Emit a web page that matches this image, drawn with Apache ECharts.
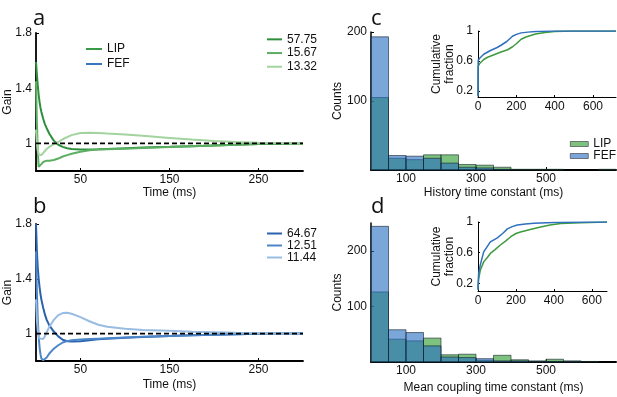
<!DOCTYPE html>
<html><head><meta charset="utf-8">
<script src="https://cdn.jsdelivr.net/npm/echarts@6/dist/echarts.min.js"></script>
<style>html,body{margin:0;padding:0;background:#fff}#c{width:617px;height:397px}</style>
</head><body><div id="c"></div>
<script>
// ---- Panel a / b : gain curves ----
const timeMs = [0,1,2,3,4,5,6,8,10,12,15,20,25,30,35,40,50,60,70,80,100,120,150,175,200,225,250,275,300];
const lip5775 = [1.59,1.50,1.42,1.35,1.30,1.26,1.23,1.18,1.14,1.11,1.07,1.02,0.99,0.975,0.965,0.96,0.955,0.955,0.957,0.96,0.965,0.97,0.975,0.98,0.985,0.99,0.995,0.998,1.0];
const lip1567 = [1.45,1.15,0.95,0.83,0.82,0.835,0.85,0.865,0.872,0.875,0.875,0.88,0.89,0.905,0.915,0.925,0.94,0.95,0.955,0.958,0.962,0.967,0.974,0.98,0.985,0.99,0.995,0.998,1.0];
const lip1332 = [1.10,1.00,0.95,0.92,0.91,0.91,0.915,0.93,0.945,0.96,0.975,0.995,1.01,1.03,1.045,1.06,1.075,1.078,1.076,1.072,1.065,1.055,1.04,1.028,1.018,1.01,1.005,1.002,1.0];
const fef6467 = [1.80,1.60,1.48,1.40,1.34,1.29,1.25,1.19,1.14,1.10,1.06,1.015,0.98,0.955,0.945,0.943,0.945,0.952,0.958,0.962,0.97,0.976,0.983,0.988,0.992,0.995,0.998,1.0,1.0];
const fef1251 = [1.60,1.30,1.10,0.98,0.90,0.85,0.82,0.805,0.81,0.825,0.855,0.89,0.915,0.935,0.945,0.952,0.957,0.96,0.963,0.966,0.972,0.977,0.983,0.988,0.992,0.995,0.998,1.0,1.0];
const fef1144 = [1.25,1.10,1.02,0.98,0.965,0.958,0.955,0.96,0.98,1.01,1.05,1.10,1.135,1.15,1.152,1.145,1.12,1.09,1.065,1.05,1.035,1.027,1.02,1.014,1.01,1.006,1.003,1.001,1.0];
const refT = [0,300];
const refGain = [1,1];
const gainTicks = [1,1.4,1.8];
const timeTicks = [50,150,250];

// ---- Panel c / d : histograms ----
const binEdges = [0,50,100,150,200,250,300,350,400,450,500,550,600,650,700];
const histC_LIP = [105,17,15,22,22,8,7,4,1,1,1,0,0,1];
const histC_FEF = [193,21,20,17,10,4,3,1,0,0,0,0,0,0];
const histD_LIP = [126,41,38,43,13,14,3,12,4,2,5,2,1,0];
const histD_FEF = [244,58,53,29,9,8,6,2,2,1,1,1,0,0];
const countTicksC = [100,200];
const countTicksD = [100,200];
const constTicks = [100,300,500];

// ---- Insets : cumulative fraction ----
const cdfC_FEF_t = [0,1,10,30,65,100,120,150,180,200,225,260,300,350,400,720];
const cdfC_FEF   = [0.13,0.61,0.64,0.69,0.74,0.78,0.81,0.86,0.93,0.955,0.975,0.985,0.993,0.997,1.0,1.0];
const cdfC_LIP_t = [0,1,10,30,50,80,120,155,180,200,225,250,300,350,400,500,720];
const cdfC_LIP   = [0.13,0.53,0.57,0.62,0.65,0.68,0.72,0.75,0.79,0.83,0.89,0.92,0.96,0.98,0.993,1.0,1.0];
const cdfD_FEF_t = [0,3,12,30,65,100,130,155,180,207,250,295,400,500,680];
const cdfD_FEF   = [0.12,0.32,0.44,0.61,0.74,0.79,0.85,0.91,0.94,0.96,0.975,0.985,0.993,0.997,1.0];
const cdfD_LIP_t = [0,3,12,30,50,65,90,118,145,171,200,224,270,330,380,436,542,680];
const cdfD_LIP   = [0.12,0.25,0.37,0.48,0.54,0.59,0.64,0.70,0.75,0.805,0.85,0.87,0.90,0.935,0.96,0.98,0.99,1.0];
const fracTicks = [0.2,0.6,1];
const insetTTicks = [0,200,400,600];

const FONT = '"Liberation Sans", Arial, sans-serif';
const zip = (a,b) => a.map((v,i)=>[v,b[i]]);
const binData = (counts) => counts.map((c,i)=>[binEdges[i],binEdges[i+1],c]);

const GREEN = 'rgba(38,153,42,0.6)';
const BLUE = 'rgba(35,107,192,0.6)';

function histSeries(name, counts, color, gi, z) {
  return {
    type:'custom', name, xAxisIndex:gi, yAxisIndex:gi, z,
    itemStyle:{color},
    data: binData(counts),
    renderItem: (params, api) => {
      const c = api.value(2);
      if (!c) return null;
      const p0 = api.coord([api.value(0), c]);
      const p1 = api.coord([api.value(1), 0]);
      return {type:'rect', shape:{x:p0[0], y:p0[1], width:p1[0]-p0[0], height:p1[1]-p0[1]},
        style:{fill:color, stroke:'rgba(20,30,40,0.85)', lineWidth:0.7}};
    }
  };
}

const axLine = (w) => ({show:true, lineStyle:{color:'#000', width:w}});
const lbl = (vals, m) => ({customValues: vals, margin: m, color:'#111', fontSize:12, fontFamily:FONT});
const tick = (vals, len) => ({show:true, customValues: vals, inside:true, length:len, lineStyle:{color:'#000', width:1}});
const nm = {color:'#111', fontSize:12, fontFamily:FONT};

const grids = [
  {left:36, top:33, width:267, height:138},
  {left:36, top:224, width:267, height:137},
  {left:371, top:32, width:245, height:138},
  {left:371, top:223, width:245, height:139},
  {left:478, top:31, width:138, height:66},
  {left:478, top:222, width:129, height:69}
].map(g => Object.assign({containLabel:false, outerBoundsMode:'none'}, g));

const xAxes = [
  {gridIndex:0, type:'value', min:0, max:300, axisLine:axLine(1.8), axisTick:tick(timeTicks,3), axisLabel:lbl(timeTicks,3), splitLine:{show:false}, name:'Time (ms)', nameLocation:'middle', nameGap:16, nameTextStyle:nm},
  {gridIndex:1, type:'value', min:0, max:300, axisLine:axLine(1.8), axisTick:tick(timeTicks,3), axisLabel:lbl(timeTicks,3), splitLine:{show:false}, name:'Time (ms)', nameLocation:'middle', nameGap:18, nameTextStyle:nm},
  {gridIndex:2, type:'value', min:0, max:700, axisLine:axLine(2), axisTick:tick(constTicks,3), axisLabel:lbl(constTicks,3), splitLine:{show:false}, name:'History time constant (ms)', nameLocation:'middle', nameGap:17, nameTextStyle:nm},
  {gridIndex:3, type:'value', min:0, max:700, axisLine:axLine(2), axisTick:tick(constTicks,3), axisLabel:lbl(constTicks,3), splitLine:{show:false}, name:'Mean coupling time constant (ms)', nameLocation:'middle', nameGap:20, nameTextStyle:nm},
  {gridIndex:4, type:'value', min:0, max:720, axisLine:axLine(1), axisTick:tick(insetTTicks,2), axisLabel:lbl(insetTTicks,4), splitLine:{show:false}},
  {gridIndex:5, type:'value', min:0, max:680, axisLine:axLine(1), axisTick:tick(insetTTicks,2), axisLabel:lbl(insetTTicks,4), splitLine:{show:false}}
];
const yAxes = [
  {gridIndex:0, type:'value', min:0.8, max:1.8, axisLine:axLine(1.8), axisTick:tick(gainTicks,3), axisLabel:lbl(gainTicks,4), splitLine:{show:false}, name:'Gain', nameLocation:'middle', nameGap:22, nameTextStyle:nm},
  {gridIndex:1, type:'value', min:0.8, max:1.8, axisLine:axLine(1.8), axisTick:tick(gainTicks,3), axisLabel:lbl(gainTicks,4), splitLine:{show:false}, name:'Gain', nameLocation:'middle', nameGap:22, nameTextStyle:nm},
  {gridIndex:2, type:'value', min:0, max:200, axisLine:axLine(1.5), axisTick:tick(countTicksC,3), axisLabel:lbl(countTicksC,4), splitLine:{show:false}, name:'Counts', nameLocation:'middle', nameGap:27, nameTextStyle:nm},
  {gridIndex:3, type:'value', min:0, max:250, axisLine:axLine(1.5), axisTick:tick(countTicksD,3), axisLabel:lbl(countTicksD,4), splitLine:{show:false}, name:'Counts', nameLocation:'middle', nameGap:27, nameTextStyle:nm},
  {gridIndex:4, type:'value', min:0.12, max:1, axisLine:axLine(1), axisTick:tick(fracTicks,2), axisLabel:lbl(fracTicks,5), splitLine:{show:false}, name:'Cumulative\nfraction', nameLocation:'middle', nameGap:22, nameTextStyle:Object.assign({lineHeight:13}, nm)},
  {gridIndex:5, type:'value', min:0.1, max:1, axisLine:axLine(1), axisTick:tick(fracTicks,2), axisLabel:lbl(fracTicks,5), splitLine:{show:false}, name:'Cumulative\nfraction', nameLocation:'middle', nameGap:22, nameTextStyle:Object.assign({lineHeight:13}, nm)}
];
xAxes.concat(yAxes).forEach(a => { a.nameMoveOverlap = false; });

const line = (name, data, color, gi, w) => ({type:'line', name, data, xAxisIndex:gi, yAxisIndex:gi, showSymbol:false, symbol:'none', smooth:false, lineStyle:{color, width:w}, itemStyle:{color}, z:3, animation:false});
const dashed = (gi) => ({type:'line', name:'ref'+gi, data:zip(refT,refGain), xAxisIndex:gi, yAxisIndex:gi, symbol:'none', lineStyle:{color:'#000', width:1.6, type:[5,3]}, z:5, silent:true});

const series = [
  line('57.75', zip(timeMs,lip5775), '#2f8f3d', 0, 2),
  line('15.67', zip(timeMs,lip1567), '#5cae62', 0, 2),
  line('13.32', zip(timeMs,lip1332), '#a3d39e', 0, 2),
  {type:'line', name:'LIPa', data:[], xAxisIndex:0, yAxisIndex:0, itemStyle:{color:'#3a9a47'}, lineStyle:{color:'#3a9a47'}},
  {type:'line', name:'FEFa', data:[], xAxisIndex:0, yAxisIndex:0, itemStyle:{color:'#3a76c0'}, lineStyle:{color:'#3a76c0'}},
  dashed(0),
  line('64.67', zip(timeMs,fef6467), '#2a62ad', 1, 2),
  line('12.51', zip(timeMs,fef1251), '#4d86c8', 1, 2),
  line('11.44', zip(timeMs,fef1144), '#98bce2', 1, 2),
  dashed(1),
  histSeries('LIPc', histC_LIP, GREEN, 2, 2),
  histSeries('FEFc', histC_FEF, BLUE, 2, 3),
  histSeries('LIPd', histD_LIP, GREEN, 3, 2),
  histSeries('FEFd', histD_FEF, BLUE, 3, 3),
  line('cLIP', zip(cdfC_LIP_t,cdfC_LIP), '#3d9a3d', 4, 1.5),
  line('cFEF', zip(cdfC_FEF_t,cdfC_FEF), '#2f6fbf', 4, 1.5),
  line('dLIP', zip(cdfD_LIP_t,cdfD_LIP), '#3d9a3d', 5, 1.5),
  line('dFEF', zip(cdfD_FEF_t,cdfD_FEF), '#2f6fbf', 5, 1.5)
];
series.forEach(s => { s.animation = false; });

const legTxt = (lh) => ({color:'#111', fontSize:12, fontFamily:FONT, lineHeight:lh});
const legend = [
  {left:81, top:37, orient:'vertical', itemWidth:16, itemHeight:2, itemGap:1, icon:'rect', data:['LIPa','FEFa'], formatter: n => n.replace(/a$/,''), textStyle:legTxt(14), selectedMode:false},
  {left:262, top:27.5, orient:'vertical', itemWidth:15, itemHeight:2, itemGap:0, icon:'rect', data:['57.75','15.67','13.32'], textStyle:legTxt(13.7), selectedMode:false},
  {left:262, top:222.5, orient:'vertical', itemWidth:15, itemHeight:2, itemGap:0, icon:'rect', data:['64.67','12.51','11.44'], textStyle:legTxt(11.7), selectedMode:false},
  {left:570, top:138, orient:'vertical', itemWidth:18, itemHeight:5, itemGap:0, icon:'rect', padding:0,
   data:[{name:'LIPc', itemStyle:{color:'rgb(127,194,128)', borderColor:'#333', borderWidth:0.6}},
         {name:'FEFc', itemStyle:{color:'rgb(123,166,217)', borderColor:'#333', borderWidth:0.6}}],
   formatter: n => n.replace(/c$/,''), textStyle:legTxt(12), selectedMode:false}
];

const letter = (t, x, y) => ({type:'text', x, y, style:{text:t, fill:'#111', font:'22px "Open Sans", "DejaVu Sans", sans-serif', textVerticalAlign:'bottom'}});

const chart = echarts.init(document.getElementById('c'), null, {renderer:'canvas'});
chart.setOption({
  animation:false,
  backgroundColor:'#fff',
  grid:grids, xAxis:xAxes, yAxis:yAxes, series, legend,
  graphic:[letter('a',33,30), letter('b',33,218), letter('c',371,30), letter('d',371,218)]
});
</script></body></html>
